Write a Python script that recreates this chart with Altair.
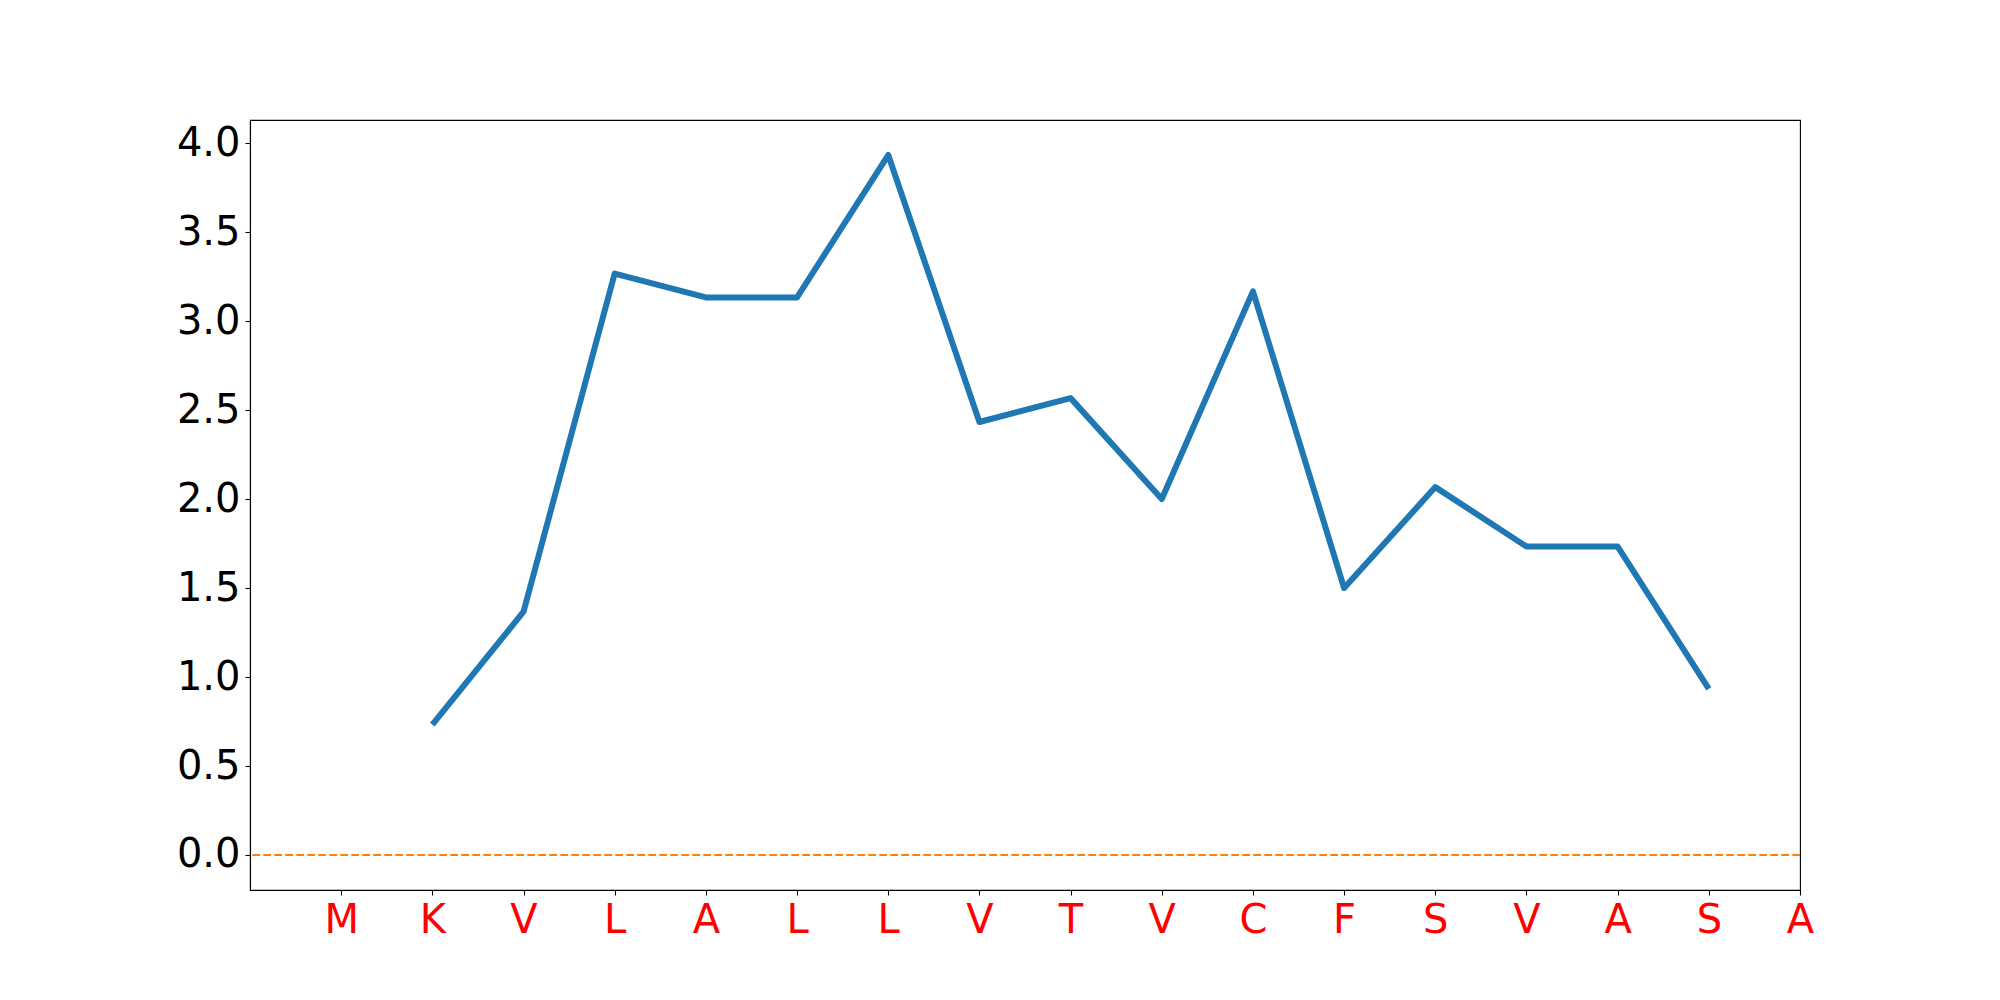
import altair as alt
import pandas as pd

letters = ["M", "K", "V", "L", "A", "L", "L", "V", "T", "V", "C", "F", "S", "V", "A", "S", "A"]
positions = list(range(1, 16))
values = [0.733, 1.367, 3.267, 3.133, 3.133, 3.933, 2.433, 2.567, 2.0, 3.167, 1.5, 2.067, 1.733, 1.733, 0.933]

df = pd.DataFrame({"pos": positions, "val": values})
label_array = "[" + ",".join("'%s'" % l for l in letters) + "]"

FONT = "DejaVu Sans"

line = alt.Chart(df).mark_line(color="#1f77b4", strokeWidth=6, strokeJoin="round").encode(
    x=alt.X(
        "pos:Q",
        scale=alt.Scale(domain=[-1, 16], nice=False, zero=False),
        axis=alt.Axis(
            values=list(range(len(letters))),
            labelExpr=label_array + "[datum.value]",
            title=None,
            grid=False,
            labelColor="red",
            labelFontSize=40,
            labelFont=FONT,
            labelPadding=5,
            tickSize=5,
            tickWidth=1.1,
            tickColor="black",
            domainColor="black",
            domainWidth=1.1,
            labelFlush=False,
            labelOverlap=False,
        ),
    ),
    y=alt.Y(
        "val:Q",
        scale=alt.Scale(domain=[-0.1967, 4.1297], nice=False, zero=False),
        axis=alt.Axis(
            values=[0, 0.5, 1.0, 1.5, 2.0, 2.5, 3.0, 3.5, 4.0],
            format=".1f",
            title=None,
            grid=False,
            labelColor="black",
            labelFontSize=40,
            labelFont=FONT,
            labelPadding=5,
            tickSize=5,
            tickWidth=1.1,
            tickColor="black",
            domainColor="black",
            domainWidth=1.1,
            labelFlush=False,
            labelOverlap=False,
        ),
    ),
)

zero = alt.Chart(pd.DataFrame({"z": [0.0]})).mark_rule(
    color="#ff7f0e", strokeWidth=2, strokeDash=[7.7, 3.3]
).encode(y="z:Q")

chart = alt.layer(zero, line).properties(
    width=1550,
    height=770,
    autosize=alt.AutoSizeParams(type="none"),
    padding={"left": 242, "top": 112, "right": 150, "bottom": 100},
).configure(
    background="white"
).configure_view(
    stroke="black", strokeWidth=1.1
)

chart.save("out.html", embed_options={"renderer": "svg", "actions": False})
